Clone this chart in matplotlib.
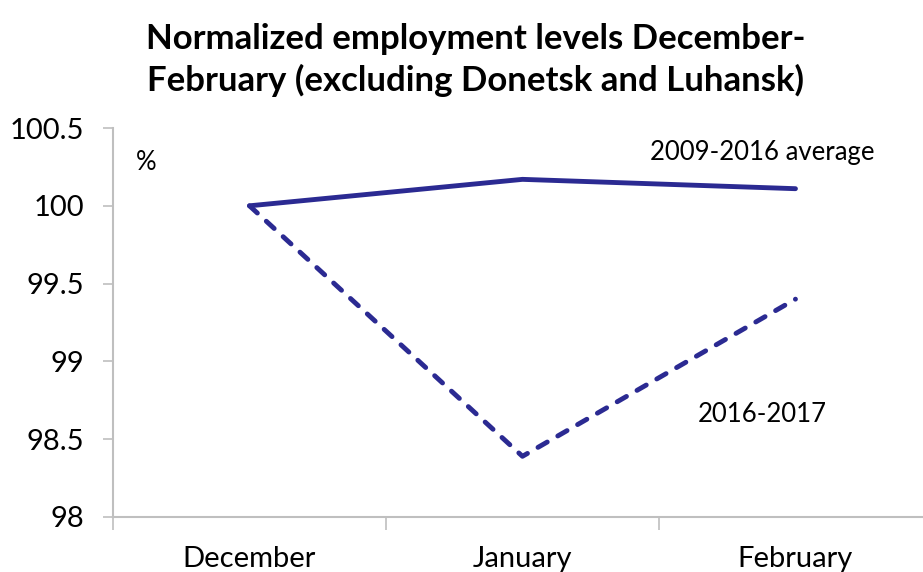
import numpy as np
import matplotlib.pyplot as plt

plt.rcParams['font.family'] = ['Lato', 'DejaVu Sans']

# employment index, December = 100
months = ["December", "January", "February"]
avg_2009_2016 = [100.0, 100.17, 100.11]
season_2016_2017 = [100.0, 98.39, 99.40]
yticks = [98, 98.5, 99, 99.5, 100, 100.5]
ytick_labels = ["98", "98.5", "99", "99.5", "100", "100.5"]

line_color = "#2b2a92"
axis_color = "#bfbfbf"

fig = plt.figure(figsize=(9.23, 5.72), dpi=100)
ax = fig.add_axes([0.1224, 0.0962, 0.8873, 0.68])

x = np.arange(len(months))
ax.plot(x, avg_2009_2016, color=line_color, lw=3.5, solid_capstyle="round",
        solid_joinstyle="round")
ax.plot(x, season_2016_2017, color=line_color, lw=3.5, linestyle=(0, (2.2, 2.5)),
        dash_capstyle="round", dash_joinstyle="round")

ax.set_xlim(-0.5, 2.5)
ax.set_ylim(98, 100.5)
ax.set_yticks(yticks)
ax.set_yticklabels(ytick_labels)

# category labels centred, tick marks on category boundaries
ax.set_xticks(x)
ax.set_xticklabels(months)
ax.set_xticks([-0.5, 0.5, 1.5, 2.5], minor=True)
ax.tick_params(axis="x", which="major", length=0, pad=21, labelsize=21)
ax.tick_params(axis="x", which="minor", length=9, color=axis_color, width=1.2)
ax.tick_params(axis="y", length=7, color=axis_color, width=1.2, pad=14, labelsize=21)

for side in ["top", "right"]:
    ax.spines[side].set_visible(False)
for side in ["left", "bottom"]:
    ax.spines[side].set_color(axis_color)
    ax.spines[side].set_linewidth(1.5)

ax.text(-0.38, 100.28, "%", fontsize=18.5, ha="center", va="center")
ax.text(1.88, 100.34, "2009-2016 average", fontsize=18.5, ha="center", va="center")
ax.text(1.88, 98.66, "2016-2017", fontsize=18.5, ha="center", va="center")

fig.text(0.515, 0.895, "Normalized employment levels December-\nFebruary (excluding Donetsk and Luhansk)",
         ha="center", va="center", fontsize=25, fontweight="bold", linespacing=1.32)

fig.savefig("out.png", dpi=100)
